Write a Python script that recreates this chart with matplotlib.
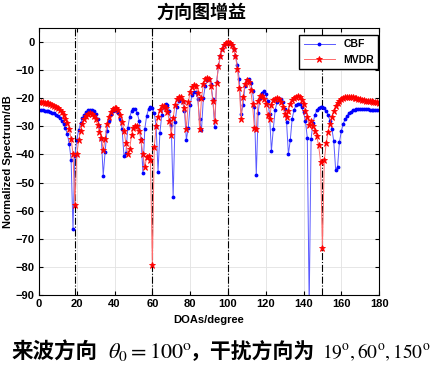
import matplotlib
matplotlib.use("Agg")
import matplotlib.pyplot as plt

plt.rcParams['font.family'] = ['Liberation Sans', 'Noto Sans CJK SC', 'DejaVu Sans']
plt.rcParams['mathtext.fontset'] = 'stix'

# scan angles (degree) and normalized spectra (dB)
doa = list(range(0, 181))

cbf = [
    -24.3, -24.3, -24.3, -24.4, -24.5, -24.6, -24.8, -25.1, -25.4, -25.8,
    -26.4, -27.1, -28.0, -29.1, -30.6, -32.8, -36.1, -41.9, -66.5, -40.7,
    -34.8, -31.3, -28.9, -27.1, -25.8, -24.9, -24.3, -24.1, -24.2, -24.6,
    -25.6, -27.2, -29.8, -34.4, -47.5, -39.1, -31.5, -28.0, -25.7, -24.5,
    -24.0, -24.2, -25.2, -27.2, -31.1, -40.7, -39.5, -30.5, -26.6, -24.7,
    -23.8, -23.9, -25.2, -28.0, -34.4, -46.5, -30.9, -26.2, -23.8, -23.0,
    -23.5, -25.3, -29.8, -46.1, -32.2, -25.9, -23.0, -22.0, -22.4, -24.5,
    -29.6, -55.2, -28.4, -23.2, -20.8, -20.2, -21.2, -24.5, -34.8, -30.5,
    -22.3, -18.9, -17.6, -17.9, -20.1, -27.5, -31.2, -19.9, -15.5, -13.5,
    -13.3, -14.8, -20.2, -30.4, -14.2, -8.4, -4.9, -2.6, -1.1, -0.3,
    0.0, -0.3, -1.1, -2.5, -4.8, -8.1, -13.3, -25.6, -22.3, -15.6,
    -13.4, -13.2, -14.5, -17.4, -23.0, -47.4, -25.1, -19.9, -18.0, -17.5,
    -18.5, -20.8, -25.5, -38.8, -30.9, -24.2, -21.3, -20.3, -20.3, -21.4,
    -23.8, -28.3, -39.9, -34.8, -27.2, -24.1, -22.5, -21.9, -22.0, -23.0,
    -24.9, -28.1, -34.0, -94.0, -34.4, -28.8, -26.0, -24.3, -23.4, -23.0,
    -23.1, -23.6, -24.5, -25.9, -28.0, -30.8, -35.3, -45.4, -44.5, -35.7,
    -31.7, -29.1, -27.5, -26.3, -25.4, -24.8, -24.3, -24.0, -23.9, -23.7,
    -23.7, -23.7, -23.8, -23.8, -23.9, -24.0, -24.1, -24.2, -24.2, -24.3,
    -24.3,
]

mvdr = [
    -21.5, -21.5, -21.5, -21.6, -21.7, -21.8, -22.0, -22.3, -22.6, -23.0,
    -23.5, -24.2, -25.0, -26.0, -27.2, -28.8, -31.0, -34.4, -39.8, -58.0,
    -40.0, -35.0, -31.5, -29.0, -27.3, -26.2, -25.6, -25.4, -25.6, -26.3,
    -27.5, -29.5, -32.0, -34.0, -38.5, -34.5, -29.0, -26.5, -24.8, -23.8,
    -23.3, -23.4, -24.2, -25.8, -28.3, -31.5, -36.0, -40.0, -38.0, -33.0,
    -30.5, -29.8, -30.0, -31.5, -35.0, -40.0, -44.5, -41.0, -40.5, -42.0,
    -79.5, -37.4, -30.0, -26.5, -24.0, -22.8, -22.7, -23.3, -25.0, -28.0,
    -33.0, -27.0, -22.5, -20.3, -19.5, -19.6, -20.8, -23.5, -31.0, -21.5,
    -17.8, -15.9, -15.2, -15.6, -18.0, -31.0, -20.0, -15.0, -13.2, -12.8,
    -13.0, -15.5, -21.0, -28.0, -14.5, -8.6, -4.9, -2.6, -1.1, -0.3,
    0.0, -0.3, -1.1, -2.6, -5.0, -9.5, -16.5, -27.5, -19.5, -15.0,
    -13.6, -14.3, -17.0, -22.0, -30.5, -31.0, -21.0, -19.3, -19.3, -20.2,
    -22.0, -26.0, -27.5, -22.5, -20.7, -20.2, -20.0, -20.2, -21.2, -23.0,
    -25.5, -26.5, -24.5, -22.0, -20.6, -19.8, -19.4, -19.3, -19.6, -20.5,
    -22.0, -24.5, -26.5, -29.5, -28.0, -29.8, -31.5, -33.5, -36.8, -42.5,
    -73.3, -42.0, -36.0, -32.0, -29.0, -26.8, -24.5, -22.8, -21.6, -20.8,
    -20.2, -19.8, -19.6, -19.5, -19.5, -19.6, -19.7, -19.9, -20.0, -20.2,
    -20.3, -20.5, -20.6, -20.8, -20.9, -21.0, -21.1, -21.3, -21.4, -21.5,
    -21.6,
]

target = 100
interf = [19, 60, 150]

fig = plt.figure(figsize=(4.4, 3.7), dpi=100)
ax = fig.add_axes([0.0886, 0.2027, 0.773, 0.7216])

ax.plot(doa, cbf, '-', color='#5a5aff', lw=0.7, marker='.', ms=3.5,
        mfc='b', mec='b', label='CBF')
ax.plot(doa, mvdr, '-', color='#ff6a6a', lw=0.7, marker='*', ms=5,
        mfc='r', mec='r', mew=0.6, label='MVDR')

for d in [target] + interf:
    ax.axvline(d, color='k', ls='-.', lw=0.8, zorder=1)

ax.set_xlim(0, 180)
ax.set_ylim(-90, 5)
ax.set_xticks(range(0, 181, 20))
ax.set_yticks(range(-90, 1, 10))
ax.grid(True, color='#e2e2e2', lw=0.6)
ax.set_axisbelow(True)
ax.tick_params(direction='in', top=True, right=True, labelsize=8, pad=3, length=3)
for lab in ax.get_xticklabels() + ax.get_yticklabels():
    lab.set_fontweight('bold')
for s in ax.spines.values():
    s.set_linewidth(0.8)

ax.set_xlabel('DOAs/degree', fontsize=8, fontweight='bold', labelpad=4)
ax.set_ylabel('Normalized Spectrum/dB', fontsize=8, fontweight='bold', labelpad=2)

ax.legend(loc='upper right', bbox_to_anchor=(0.859, 0.905),
          bbox_transform=fig.transFigure, borderaxespad=0,
          fancybox=False, edgecolor='k', framealpha=1, handlelength=3,
          prop={'weight': 'bold', 'size': 7.5})

fig.text(201 / 440, 1 - 12 / 370, '方向图增益', ha='center', va='center',
         fontsize=13, fontweight='bold', family=['Noto Sans CJK SC'])

yc = 1 - 352 / 370
fig.text(11 / 440, yc, '来波方向', ha='left', va='center', fontsize=15.5,
         fontweight='bold', family=['Noto Sans CJK SC'])
fig.text(108 / 440, yc, r'$\theta_0=100^{\rm o}$', ha='left', va='center',
         fontsize=16)
fig.text(190 / 440, yc, '，干扰方向为', ha='left', va='center', fontsize=15,
         fontweight='bold', family=['Noto Sans CJK SC'])
fig.text(322 / 440, yc, r'$19^{\rm o},60^{\rm o},150^{\rm o}$', ha='left',
         va='center', fontsize=14)

fig.savefig('out.png', dpi=100)
